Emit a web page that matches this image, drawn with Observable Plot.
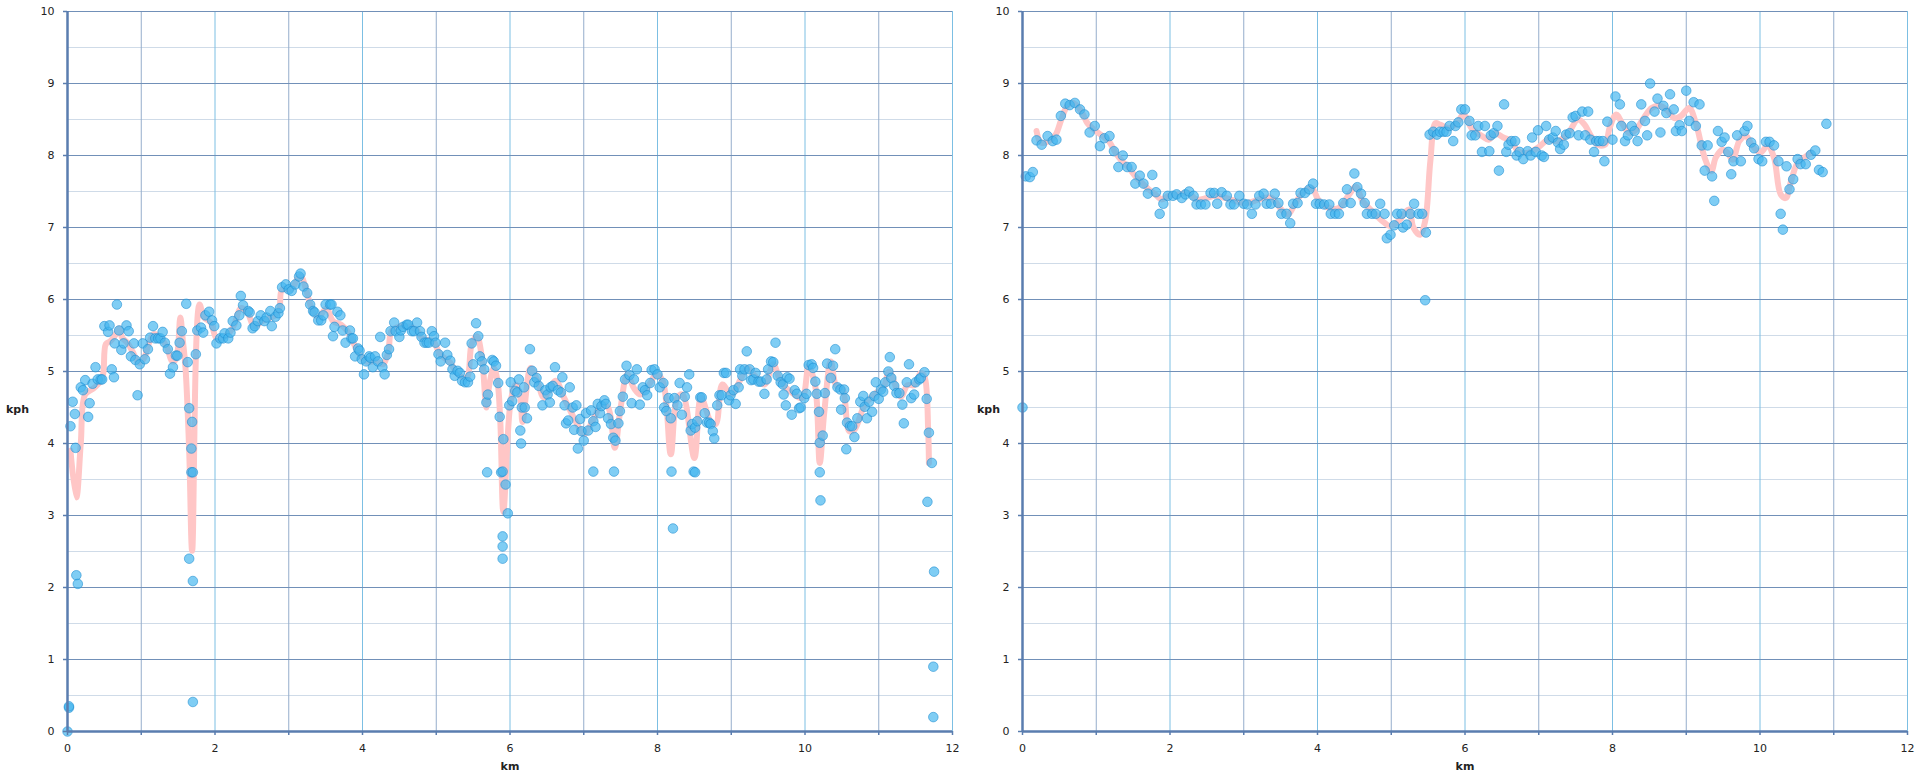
<!DOCTYPE html>
<html><head><meta charset="utf-8">
<script src="https://cdn.jsdelivr.net/npm/d3@7"></script>
<script src="https://cdn.jsdelivr.net/npm/@observablehq/plot@0.6"></script>
<style>
html,body{margin:0;padding:0;background:#fff;}
#wrap{position:relative;width:1919px;height:784px;overflow:hidden;background:#fff;}
#left,#right{position:absolute;top:0;}
#left{left:0}
#right{left:955px}
</style></head><body><div id="wrap"><div id="left"></div><div id="right"></div></div>
<script>
// ---------- data: left chart points ----------
const leftKm = [0,0.02,0.02,0.04,0.07,0.10,0.11,0.12,0.14,0.18,0.21,0.24,0.28,0.30,0.34,0.38,0.41,0.45,0.47,0.50,0.55,0.57,0.60,0.63,0.64,0.67,0.70,0.73,0.76,0.80,0.83,0.86,0.90,0.92,0.95,0.98,1.02,1.05,1.09,1.12,1.16,1.19,1.23,1.26,1.29,1.32,1.36,1.39,1.43,1.47,1.49,1.52,1.55,1.61,1.63,1.65,1.69,1.68,1.68,1.70,1.65,1.70,1.70,1.74,1.76,1.81,1.84,1.87,1.92,1.96,1.99,2.02,2.07,2.11,2.13,2.18,2.21,2.24,2.29,2.33,2.35,2.38,2.45,2.47,2.51,2.54,2.58,2.62,2.67,2.70,2.75,2.77,2.82,2.86,2.88,2.91,2.96,3.00,3.04,3.09,3.14,3.16,
3.20,3.25,3.29,3.33,3.35,3.40,3.44,3.47,3.50,3.56,3.58,3.60,3.62,3.66,3.70,3.73,3.77,3.83,3.85,3.87,3.90,3.94,3.96,3.99,4.02,4.05,4.09,4.11,4.14,4.17,4.21,4.24,4.27,4.30,4.33,4.36,4.38,4.43,4.45,4.50,4.52,4.55,4.60,4.62,4.67,4.70,4.74,4.78,4.80,4.84,4.87,4.90,4.94,4.97,4.99,5.03,5.06,5.12,5.15,5.19,5.22,5.25,5.29,5.32,5.35,5.39,5.43,5.46,5.48,5.50,5.54,5.57,5.59,5.62,5.65,5.68,5.70,5.76,5.78,5.81,5.84,5.86,5.91,5.99,
5.69,5.88,5.90,5.94,5.97,5.90,5.90,5.90,
6.01,6.03,6.07,6.10,6.12,6.14,6.15,6.16,6.19,6.20,6.23,6.27,6.30,6.33,6.36,6.39,6.44,6.48,6.51,6.54,6.55,6.58,6.61,6.65,6.69,6.71,6.74,6.76,6.79,6.81,6.85,6.87,6.90,6.92,6.95,6.97,7.00,7.03,7.06,7.10,7.13,7.16,7.19,7.22,7.24,7.28,7.30,7.33,7.37,7.40,7.43,7.47,7.49,7.53,7.56,7.58,7.62,7.65,7.68,7.72,7.76,7.80,7.83,7.86,7.90,7.92,7.96,8.00,8.03,8.08,8.09,8.12,8.15,8.18,8.23,8.27,8.30,8.33,8.37,8.40,8.43,8.45,8.47,8.51,8.54,8.58,8.60,8.64,8.67,8.70,8.72,8.75,8.77,8.81,8.84,8.87,8.90,8.93,8.97,8.99,9.03,9.06,9.10,9.12,9.15,9.18,9.21,9.25,9.27,9.30,9.33,9.37,9.40,9.45,9.48,9.50,9.54,9.57,9.60,9.63,9.67,9.70,9.71,9.74,9.76,9.79,9.82,9.86,9.89,9.92,
7.13,7.41,8.19,8.49,8.51,8.21,
9.94,9.99,10.02,10.05,10.09,10.11,10.14,10.16,10.19,10.20,10.24,10.20,10.21,10.27,10.30,10.35,10.38,10.41,10.44,10.48,10.49,10.53,10.54,10.56,10.57,10.61,10.64,10.67,10.71,10.75,10.79,10.81,10.84,10.87,10.91,10.94,10.96,11.00,11.03,11.06,11.09,11.13,11.15,11.17,11.21,11.24,11.28,11.32,11.34,11.38,11.41,11.44,11.48,11.50,11.55,11.57,11.62,11.65,11.68,11.72,11.66,11.74,11.74,11.75];
const leftKph = [0,0.33,0.35,4.24,4.58,4.41,3.94,2.17,2.05,4.78,4.74,4.88,4.37,4.56,4.83,5.06,4.89,4.89,4.89,5.63,5.55,5.64,5.03,4.92,5.39,5.93,5.57,5.30,5.39,5.64,5.56,5.21,5.39,5.16,4.67,5.10,5.39,5.17,5.31,5.47,5.63,5.46,5.46,5.46,5.55,5.40,5.31,4.97,5.06,5.22,5.22,5.40,5.56,5.94,5.13,4.49,4.30,3.93,3.60,3.60,2.40,2.09,0.41,5.24,5.57,5.61,5.54,5.78,5.83,5.71,5.63,5.39,5.46,5.46,5.53,5.46,5.54,5.70,5.64,5.78,6.05,5.92,5.84,5.82,5.60,5.63,5.70,5.78,5.70,5.75,5.84,5.63,5.76,5.81,5.88,6.17,6.21,6.14,6.12,6.21,6.32,6.36,
6.18,6.09,5.93,5.84,5.82,5.71,5.71,5.78,5.93,5.93,5.93,5.49,5.62,5.83,5.78,5.57,5.40,5.57,5.46,5.46,5.21,5.32,5.29,5.17,4.96,5.14,5.21,5.19,5.06,5.21,5.14,5.48,5.06,4.96,5.23,5.31,5.56,5.68,5.56,5.48,5.57,5.62,5.65,5.65,5.56,5.56,5.68,5.56,5.48,5.40,5.40,5.40,5.56,5.49,5.40,5.24,5.14,5.40,5.23,5.15,5.03,4.94,5.01,4.98,4.87,4.85,4.85,4.93,5.39,5.10,5.67,5.49,5.21,5.14,5.03,4.57,4.68,5.16,5.14,5.08,4.84,4.37,4.06,4.53,
3.60,3.60,3.61,3.43,3.03,2.71,2.57,2.40,
4.85,4.59,4.73,4.71,4.89,4.18,4.00,4.50,4.78,4.50,4.35,5.31,5.01,4.85,4.91,4.80,4.53,4.74,4.68,4.57,4.78,4.80,5.06,4.74,4.71,4.92,4.53,4.28,4.32,4.78,4.50,4.19,4.53,3.93,4.34,4.17,4.04,4.42,4.18,4.46,4.31,4.23,4.55,4.42,4.52,4.60,4.55,4.35,4.27,4.08,4.04,4.28,4.45,4.65,4.89,5.08,4.95,4.56,4.89,5.03,4.54,4.78,4.74,4.67,4.84,5.02,5.03,4.96,4.78,4.84,4.50,4.45,4.63,4.35,4.63,4.53,4.84,4.40,4.65,4.78,4.96,4.18,4.27,4.22,4.31,4.64,4.64,4.42,4.29,4.29,4.27,4.17,4.07,4.53,4.67,4.67,4.98,4.98,4.60,4.67,4.74,4.55,4.78,5.03,4.94,5.03,5.28,5.03,4.88,4.89,4.98,4.86,4.86,4.69,4.89,5.03,5.14,5.13,5.40,4.94,4.85,4.82,4.68,4.53,4.92,4.90,4.40,4.74,4.69,4.49,
3.61,3.61,3.61,3.61,3.60,2.82,
4.50,4.63,4.69,5.09,5.10,5.05,4.86,4.69,4.44,4.01,4.11,3.60,3.21,4.70,5.11,4.91,5.08,5.31,4.78,4.75,4.47,4.75,4.63,3.92,4.29,4.24,4.24,4.09,4.35,4.58,4.66,4.51,4.35,4.58,4.44,4.66,4.85,4.62,4.75,4.72,4.85,5.00,5.20,4.91,4.80,4.70,4.70,4.54,4.28,4.85,5.10,4.63,4.68,4.85,4.89,4.91,4.99,4.62,4.15,3.73,3.19,0.90,0.20,2.22];

// ---------- data: left chart smoothed line ----------
const leftLineKm = [0.04,0.12,0.18,0.24,0.36,0.47,0.52,0.58,0.65,0.70,0.74,0.81,0.88,0.97,1.04,1.10,1.17,1.26,1.35,1.42,1.47,1.53,1.56,1.60,1.65,1.69,1.79,1.85,1.94,2.03,2.17,2.26,2.35,2.44,2.53,2.67,2.80,2.87,2.91,3.03,3.14,3.17,3.24,3.31,3.40,3.51,3.60,3.71,3.81,3.90,3.96,4.05,4.19,4.28,4.35,4.39,4.46,4.60,4.73,4.82,4.96,5.05,5.19,5.28,5.41,5.48,5.55,5.62,5.68,5.72,5.78,5.83,5.87,5.91,6.01,6.08,6.14,6.17,6.28,6.37,6.46,6.62,6.73,6.91,7.00,7.12,7.24,7.33,7.42,7.50,7.59,7.68,7.77,7.89,7.98,8.07,8.18,8.27,8.34,8.50,8.59,8.72,8.79,8.88,9.00,9.13,9.22,9.31,9.45,9.57,9.67,9.83,9.96,10.05,10.14,10.20,10.26,10.35,10.42,10.51,10.60,10.67,10.81,10.94,11.07,11.14,11.30,11.39,11.48,11.57,11.62,11.67,11.68];
const leftLineKph = [3.90,3.25,4.00,4.68,4.77,4.90,5.38,5.42,5.51,5.60,5.47,5.40,5.28,5.12,5.19,5.38,5.52,5.47,5.33,5.14,5.17,5.75,5.47,5.05,3.90,2.51,5.93,5.75,5.68,5.45,5.51,5.65,5.88,5.82,5.63,5.72,5.77,5.86,6.14,6.14,6.32,6.32,6.12,5.88,5.75,5.88,5.70,5.65,5.54,5.35,5.24,5.14,5.14,5.10,5.28,5.56,5.61,5.63,5.58,5.45,5.42,5.24,5.12,4.98,4.91,5.38,5.49,5.19,4.50,4.82,5.05,4.87,4.27,3.05,4.59,4.82,4.64,4.30,5.05,4.87,4.64,4.87,4.64,4.27,4.13,4.31,4.54,4.50,3.94,4.50,4.96,4.77,4.68,4.82,4.96,4.87,3.85,4.64,4.68,3.80,4.64,4.31,4.27,4.82,4.68,4.90,5.05,4.95,4.82,5.10,4.86,4.70,4.63,5.07,4.79,3.73,4.42,5.14,4.81,4.75,4.17,4.19,4.54,4.68,4.79,5.00,4.65,4.81,4.81,4.98,4.93,4.19,3.73];

// ---------- data: right chart points ----------
const rightKm = [0,5.46,
0.045,0.10,0.14,0.19,0.26,0.34,0.41,0.46,0.52,0.58,0.64,0.71,0.78,0.84,0.91,0.98,1.05,1.11,1.18,1.24,1.30,1.36,1.42,1.48,1.53,1.59,1.64,1.70,1.76,1.81,1.86,1.91,1.97,2.04,2.09,2.16,2.21,2.26,2.32,2.36,2.42,2.48,2.55,2.60,2.64,2.70,2.77,2.82,2.87,2.94,3.00,3.05,3.11,3.16,3.21,3.27,3.31,3.37,3.42,3.47,3.51,3.58,3.63,3.67,3.73,3.77,3.83,3.89,3.94,
3.98,4.03,4.09,4.16,4.18,4.24,4.29,4.35,4.40,4.45,4.50,4.54,4.59,4.64,4.67,4.74,4.79,4.85,4.91,4.94,4.99,5.04,5.08,5.14,5.16,5.21,5.26,5.31,5.37,5.42,5.47,5.52,5.57,5.62,5.66,5.71,5.75,5.79,5.84,5.87,5.91,5.95,6.00,6.06,6.09,6.14,6.18,6.23,6.27,6.33,6.35,6.39,6.44,6.46,6.53,6.56,6.59,6.63,6.68,6.70,6.74,6.79,6.85,6.89,6.91,6.96,6.99,7.04,7.07,7.10,7.14,7.19,7.23,7.26,7.29,7.34,7.37,7.42,7.46,7.50,7.54,7.59,7.63,7.67,7.70,7.75,7.78,7.82,7.87,7.89,7.93,
8.00,8.04,8.10,8.12,8.17,8.21,8.26,8.30,8.34,8.39,8.44,8.47,8.51,8.57,8.61,8.65,8.69,8.73,8.78,8.83,8.86,8.91,8.94,9.00,9.04,9.10,9.13,9.18,9.21,9.25,9.29,9.35,9.38,9.43,9.48,9.52,9.57,9.61,9.64,9.69,9.74,9.79,9.83,9.88,9.92,9.98,10.03,10.08,10.13,10.19,10.25,10.28,10.31,10.36,10.40,10.45,10.51,10.55,10.62,10.69,10.75,10.80,10.85,10.90];
const rightKph = [4.50,5.99,
7.71,7.70,7.77,8.21,8.15,8.27,8.20,8.22,8.55,8.72,8.70,8.73,8.64,8.57,8.32,8.41,8.13,8.24,8.27,8.06,7.84,8.00,7.84,7.84,7.61,7.72,7.61,7.47,7.73,7.49,7.19,7.33,7.44,7.44,7.46,7.41,7.46,7.50,7.44,7.32,7.32,7.32,7.48,7.48,7.33,7.49,7.44,7.32,7.32,7.44,7.33,7.32,7.19,7.32,7.44,7.47,7.33,7.33,7.47,7.34,7.19,7.19,7.06,7.33,7.34,7.48,7.48,7.53,7.61,
7.33,7.33,7.32,7.32,7.19,7.19,7.19,7.34,7.53,7.34,7.75,7.56,7.47,7.34,7.19,7.19,7.19,7.33,7.19,6.85,6.90,7.03,7.19,7.19,7.00,7.04,7.19,7.33,7.19,7.19,6.93,8.29,8.33,8.29,8.33,8.33,8.33,8.41,8.20,8.41,8.46,8.64,8.64,8.48,8.28,8.28,8.41,8.05,8.41,8.06,8.28,8.31,8.41,7.79,8.71,8.05,8.15,8.20,8.20,8.00,8.05,7.95,8.06,8.00,8.25,8.05,8.35,8.00,7.98,8.41,8.22,8.25,8.34,8.18,8.09,8.15,8.29,8.31,8.53,8.55,8.28,8.61,8.28,8.61,8.22,8.05,8.20,8.20,8.20,7.92,8.47,
8.22,8.82,8.71,8.41,8.20,8.28,8.41,8.34,8.20,8.71,8.48,8.28,9.00,8.61,8.79,8.32,8.69,8.59,8.85,8.64,8.34,8.42,8.34,8.90,8.48,8.74,8.41,8.71,8.14,7.79,8.14,7.71,7.37,8.34,8.19,8.25,8.05,7.74,7.92,8.28,7.92,8.34,8.41,8.18,8.10,7.95,7.92,8.19,8.19,8.14,7.92,7.19,6.97,7.85,7.53,7.67,7.95,7.88,7.88,8.01,8.07,7.80,7.77,8.44];

// ---------- data: right chart smoothed line ----------
const rightLineKm = [0.19,0.25,0.36,0.45,0.52,0.59,0.66,0.72,0.81,0.88,0.97,1.06,1.17,1.26,1.35,1.44,1.53,1.62,1.71,1.80,1.89,1.98,2.12,2.25,2.36,2.50,2.61,2.75,2.88,3.02,3.15,3.27,3.38,3.51,3.60,3.69,3.78,3.92,4.02,4.16,4.29,4.43,4.52,4.61,4.74,4.88,4.99,5.10,5.24,5.30,5.39,5.46,5.53,5.60,5.66,5.78,5.89,5.98,6.09,6.23,6.32,6.41,6.52,6.63,6.72,6.86,6.99,7.13,7.26,7.40,7.53,7.62,7.71,7.80,7.90,7.96,8.05,8.14,8.23,8.32,8.41,8.53,8.64,8.75,8.84,8.93,9.04,9.13,9.25,9.34,9.40,9.49,9.56,9.63,9.72,9.81,9.90,10.01,10.10,10.19,10.28,10.35,10.42,10.51,10.60,10.69];
const rightLineKph = [8.34,8.18,8.20,8.29,8.48,8.66,8.73,8.71,8.59,8.45,8.36,8.29,8.20,8.04,7.92,7.83,7.71,7.62,7.53,7.46,7.39,7.44,7.46,7.48,7.39,7.41,7.44,7.41,7.37,7.34,7.37,7.41,7.41,7.25,7.18,7.32,7.46,7.55,7.37,7.27,7.27,7.46,7.57,7.37,7.23,7.09,7.02,7.09,7.25,7.00,6.90,7.09,7.92,8.45,8.43,8.38,8.45,8.57,8.38,8.27,8.22,8.31,8.25,8.20,8.06,8.04,8.11,8.22,8.20,8.31,8.50,8.43,8.27,8.15,8.15,8.38,8.57,8.43,8.31,8.36,8.50,8.66,8.69,8.62,8.52,8.55,8.66,8.45,7.97,7.78,7.97,8.08,8.04,7.94,8.20,8.27,8.13,8.04,8.14,7.97,7.46,7.41,7.64,7.90,7.97,8.04];

// ---------- axes ----------
const yTicks = [0,1,2,3,4,5,6,7,8,9,10];
const yMinor = [0.5,1.5,2.5,3.5,4.5,5.5,6.5,7.5,8.5,9.5];
const xTicks = [0,1,2,3,4,5,6,7,8,9,10,11,12];
const xOdd = [1,3,5,7,9,11];
const xEven = [2,4,6,8,10,12];
const xLabelTicks = [0,2,4,6,8,10,12];

const axisColor = "#5a7daf";

function panel(kmArr, kphArr, lineKm, lineKph, width, marginRight, kphDx) {
  const pts = kmArr.map((k, i) => ({km: k, kph: kphArr[i]}));
  const line = lineKm.map((k, i) => ({km: k, kph: lineKph[i]}));
  return Plot.plot({
    width, height: 784,
    marginLeft: 67, marginRight, marginTop: 11, marginBottom: 53,
    style: {fontFamily: "'DejaVu Sans', Verdana, sans-serif", fontSize: "11px", background: "transparent", overflow: "visible"},
    x: {domain: [0, 12]},
    y: {domain: [0, 10]},
    marks: [
      Plot.ruleY(yMinor, {stroke: "#cfdbe8", strokeWidth: 1}),
      Plot.ruleX(xOdd, {stroke: "#95adcb", strokeWidth: 1}),
      Plot.ruleX(xEven, {stroke: "#7cbfe3", strokeWidth: 1}),
      Plot.ruleY(yTicks.slice(1), {stroke: "#7190b8", strokeWidth: 1}),
      Plot.line(line, {x: "km", y: "kph", stroke: "#ffc6c6", strokeWidth: 6, curve: "catmull-rom", strokeLinejoin: "round", strokeLinecap: "round"}),
      Plot.dot(pts, {x: "km", y: "kph", r: 4.8, fill: "#42b5ef", fillOpacity: 0.68, stroke: "#1a8bd0", strokeOpacity: 0.55, strokeWidth: 1}),
      Plot.ruleX([0], {stroke: axisColor, strokeWidth: 2.5}),
      Plot.ruleY([0], {stroke: axisColor, strokeWidth: 2.5}),
      Plot.axisY(yTicks, {tickSize: 4, tickPadding: 9, stroke: axisColor, strokeWidth: 1.5, fill: "#222", label: null, tickFormat: d => String(d)}),
      Plot.axisX(xTicks, {tickSize: 4, tickPadding: 9, stroke: axisColor, strokeWidth: 1.5, fill: "#222", label: null, tickFormat: d => xLabelTicks.includes(d) ? String(d) : ""}),
      Plot.text(["kph"], {frameAnchor: "left", dx: -kphDx, dy: 38, textAnchor: "middle", fontWeight: "bold", fill: "#222"}),
      Plot.text(["km"], {frameAnchor: "bottom", dy: 38, textAnchor: "middle", fontWeight: "bold", fill: "#222"})
    ]
  });
}

document.getElementById("left").append(panel(leftKm, leftKph, leftLineKm, leftLineKph, 955, 3, 50));
document.getElementById("right").append(panel(rightKm, rightKph, rightLineKm, rightLineKph, 964, 12, 34));
</script>
</body></html>
